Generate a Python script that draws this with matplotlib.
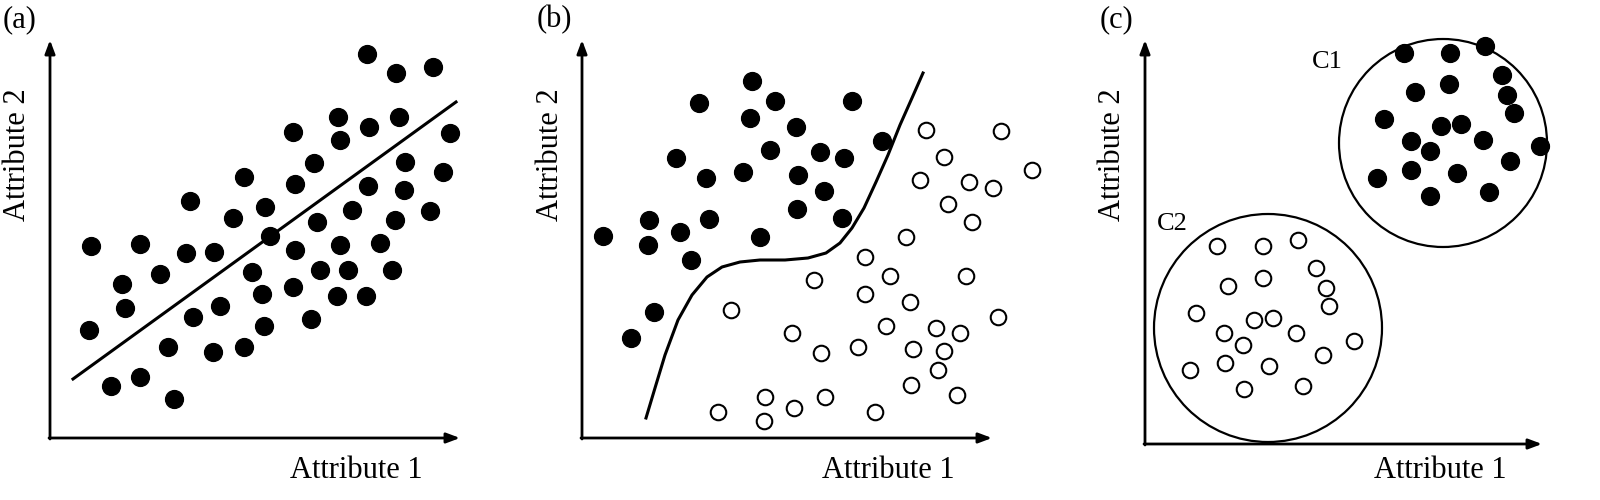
import matplotlib.pyplot as plt
import numpy as np

plt.rcParams['font.family'] = ['Liberation Serif', 'DejaVu Serif']

# all coordinates in pixel units (y grows downward)
a_pts = [(91,246),(140,244),(122,284),(125,308),(160,274),(89,330),(186,253),(214,252),(190,201),
         (233,218),(244,177),(265,207),(293,132),(295,184),(314,163),(338,117),(340,140),(367,54),
         (369,127),(396,73),(433,67),(399,117),(450,133),(405,162),(443,172),(368,186),(404,190),
         (395,220),(430,211),(352,210),(380,243),(340,245),(317,222),(295,250),(270,236),(252,272),
         (262,294),(293,287),(320,270),(348,270),(392,270),(366,296),(337,296),(311,319),(264,326),
         (244,347),(213,352),(220,306),(193,317),(168,347),(140,377),(111,386),(174,399)]
a_line = [(73,379),(456,102)]

b_filled = [(603,236),(649,220),(648,245),(680,232),(691,260),(709,219),(676,158),(706,178),(699,103),
            (752,81),(750,118),(775,101),(770,150),(743,172),(796,127),(820,152),(798,175),(844,158),
            (824,191),(797,209),(842,218),(760,237),(852,101),(882,141),(654,312),(631,338)]
b_open = [(926,130),(1001,131),(944,157),(920,180),(969,182),(993,188),(1032,170),(948,204),(972,222),
          (906,237),(865,257),(890,276),(966,276),(814,280),(865,294),(910,302),(731,310),(886,326),
          (936,328),(960,333),(998,317),(792,333),(821,353),(858,347),(913,349),(944,351),(938,370),
          (911,385),(957,395),(765,397),(825,397),(794,408),(718,412),(764,421),(875,412)]
b_curve = [(646,418),(655,388),(665,355),(678,320),(692,295),(707,277),(722,267),(740,262),(760,260),
           (785,260),(808,258),(826,253),(840,243),(852,228),(864,208),(876,182),(888,155),(900,125),
           (912,98),(923,73)]

c_filled = [(1404,53),(1450,53),(1485,46),(1502,75),(1415,92),(1449,84),(1507,95),(1514,113),(1384,119),
            (1441,126),(1461,124),(1411,141),(1430,151),(1483,140),(1540,146),(1377,178),(1411,170),
            (1457,173),(1510,161),(1430,196),(1489,192)]
c_open = [(1217,246),(1263,246),(1298,240),(1316,268),(1263,278),(1228,286),(1326,288),(1329,306),
          (1196,313),(1254,320),(1273,318),(1224,333),(1243,345),(1296,333),(1354,341),(1323,355),
          (1190,370),(1225,363),(1269,366),(1303,386),(1244,389)]
clusters = [("C1", (1443,143), 104, (1327,62)), ("C2", (1268,328), 114, (1172,224))]

panels = [("(a)", 50, 438, 460, 40, 3, 356),
          ("(b)", 582, 438, 992, 40, 537, 888),
          ("(c)", 1145, 444, 1542, 40, 1100, 1440)]

fig = plt.figure(figsize=(16, 5), dpi=100)
ax = fig.add_axes([0, 0, 1, 1])
ax.set_xlim(0, 1600)
ax.set_ylim(500, 0)
ax.axis('off')

def dots(pts, filled):
    p = np.array(pts)
    if filled:
        ax.scatter(p[:, 0], p[:, 1], s=165, c='black', zorder=3)
    else:
        ax.scatter(p[:, 0], p[:, 1], s=125, facecolors='white', edgecolors='black', linewidths=1.5, zorder=3)

for label, x0, y0, xe, ye, lx, ax1x in panels:
    arr = dict(arrowstyle='-|>,head_length=0.8,head_width=0.3', color='black', lw=2, shrinkA=0, shrinkB=0)
    ax.annotate('', xy=(x0, ye), xytext=(x0, y0 + 1), arrowprops=arr)
    ax.annotate('', xy=(xe, y0), xytext=(x0 - 1, y0), arrowprops=arr)
    ax.text(lx, 20, label, fontsize=22, ha='left', va='center')
    ax.text(x0 - 32, 155, "Attribute 2", fontsize=22, rotation=90, ha='center', va='center')
    ax.text(ax1x, 470, "Attribute 1", fontsize=22, ha='center', va='center')

dots(a_pts, True)
la = np.array(a_line)
ax.plot(la[:, 0], la[:, 1], color='black', lw=2.2)

dots(b_filled, True)
dots(b_open, False)
bc = np.array(b_curve)
ax.plot(bc[:, 0], bc[:, 1], color='black', lw=2.2)

dots(c_filled, True)
dots(c_open, False)
for name, (cx, cy), r, (tx, ty) in clusters:
    ax.add_patch(plt.Circle((cx, cy), r, fill=False, color='black', lw=1.6))
    ax.text(tx, ty, name, fontsize=19, ha='center', va='center')

fig.savefig('out.png', dpi=100)
